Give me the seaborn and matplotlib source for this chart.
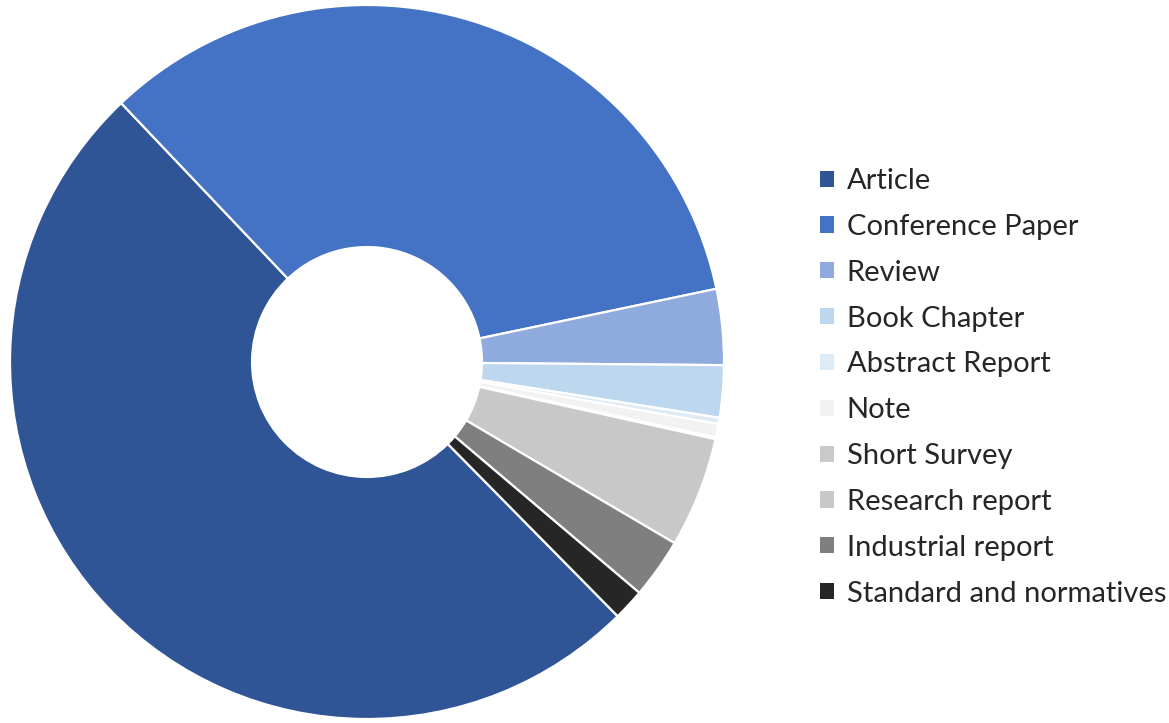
import matplotlib
matplotlib.use("Agg")
import matplotlib.pyplot as plt
import seaborn as sns
from matplotlib.patches import Patch

categories = ["Article", "Conference Paper", "Review", "Book Chapter", "Abstract Report",
              "Note", "Short Survey", "Research report", "Industrial report",
              "Standard and normatives"]
shares = [50.3, 33.8, 3.43, 2.36, 0.28, 0.61, 0.08, 5.0, 2.72, 1.42]
colors = ["#2F5597", "#4472C4", "#8FAADC", "#BDD7EE", "#DDEBF7",
          "#F2F2F2", "#C9C9C9", "#C8C8C8", "#7F7F7F", "#262626"]

sns.set_theme(style="white")
plt.rcParams['font.family'] = ['Lato', 'DejaVu Sans']
palette = sns.color_palette(colors)

W, H = 1169, 723
fig = plt.figure(figsize=(W / 100, H / 100), dpi=100)
cx, cy, r = 367, 362, 357
ax = fig.add_axes([(cx - r) / W, (H - cy - r) / H, 2 * r / W, 2 * r / H])
wedges, _ = ax.pie(shares, colors=palette, startangle=-45.4, counterclock=False,
                   radius=1.0, wedgeprops=dict(width=0.678, edgecolor="white", linewidth=1.6))
ax.set_xlim(-1, 1)
ax.set_ylim(-1, 1)
ax.set_aspect("equal")
ax.axis("off")

handles = [Patch(facecolor=c, edgecolor="none") for c in palette]
fig.legend(handles, categories, loc="upper left",
           bbox_to_anchor=(820 / W, 1 - 168 / H), frameon=False,
           fontsize=21, handlelength=0.48, handleheight=0.48, handletextpad=0.44,
           labelspacing=0.68, borderpad=0, borderaxespad=0)

fig.savefig("out.png", dpi=100)
